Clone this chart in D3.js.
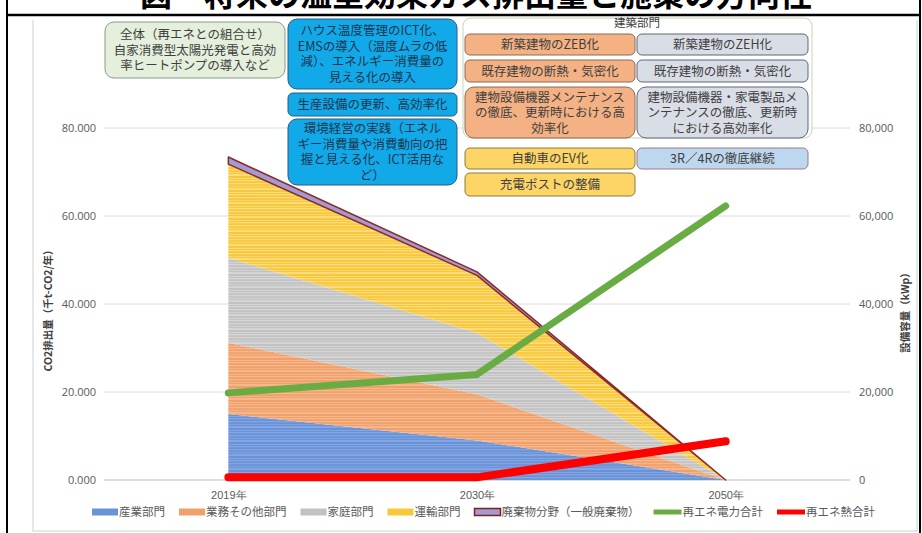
<!DOCTYPE html>
<html><head><meta charset="utf-8">
<script src="https://cdn.jsdelivr.net/npm/d3@7"></script>
<style>
html,body{margin:0;padding:0;background:#fff;}
svg{display:block;font-family:"Noto Sans CJK JP","Noto Sans",sans-serif;}
</style></head>
<body><svg id="c" width="922" height="533"></svg>
<script>
// ---- data ----
const years = ["2019年","2030年","2050年"];
const industry  = [15.0, 9.0, 0];
const business  = [16.2, 10.5, 0];
const household = [19.3, 13.9, 0];
const transport = [21.3, 13.1, 0];
const waste     = [1.6, 0.8, 0];
const reElec = [19800, 24000, 62300];
const reHeat = [600, 600, 8800];
const seriesNames = ["産業部門","業務その他部門","家庭部門","運輸部門","廃棄物分野（一般廃棄物）"];
const lineNames = ["再エネ電力合計","再エネ熱合計"];
const leftTicks = [0,20,40,60,80];
const rightTicks = [0,20000,40000,60000,80000];
const titleText = "図　将来の温室効果ガス排出量と施策の方向性";
const leftTitle = "CO2排出量（千t-CO2/年）";
const rightTitle = "設備容量（kWp）";

// annotation boxes (layout kept separately)
const boxes = [
 {t:["全体（再エネとの組合せ）","自家消費型太陽光発電と高効","率ヒートポンプの導入など"], x:105,y:22,w:180,h:56, f:"#e4efdc", s:"#8a9a8a", c:"#404040"},
 {t:["ハウス温度管理のICT化、","EMSの導入（温度ムラの低","減）、エネルギー消費量の","見える化の導入"], x:288,y:19,w:169,h:70, f:"#12a9e8", s:"#2a5a80", c:"#1e3550"},
 {t:["生産設備の更新、高効率化"], x:288,y:93,w:169,h:23, f:"#12a9e8", s:"#2a5a80", c:"#1e3550"},
 {t:["環境経営の実践（エネル","ギー消費量や消費動向の把","握と見える化、ICT活用な","ど）"], x:288,y:119,w:169,h:66, f:"#12a9e8", s:"#2a5a80", c:"#1e3550"},
 {t:["新築建物のZEB化"], x:465,y:34,w:170,h:21, f:"#f4b183", s:"#8c6a55", c:"#404040"},
 {t:["新築建物のZEH化"], x:637,y:34,w:171,h:21, f:"#d9dde6", s:"#5e6878", c:"#404040"},
 {t:["既存建物の断熱・気密化"], x:465,y:60,w:170,h:22, f:"#f4b183", s:"#8c6a55", c:"#404040"},
 {t:["既存建物の断熱・気密化"], x:637,y:60,w:171,h:22, f:"#d9dde6", s:"#5e6878", c:"#404040"},
 {t:["建物設備機器メンテナンス","の徹底、更新時における高","効率化"], x:465,y:87,w:170,h:51, f:"#f4b183", s:"#8c6a55", c:"#404040"},
 {t:["建物設備機器・家電製品メ","ンテナンスの徹底、更新時","における高効率化"], x:637,y:87,w:171,h:51, f:"#d9dde6", s:"#5e6878", c:"#404040"},
 {t:["自動車のEV化"], x:465,y:148,w:170,h:21, f:"#fcd566", s:"#8c7a40", c:"#404040"},
 {t:["3R／4Rの徹底継続"], x:637,y:148,w:171,h:21, f:"#bdd7ee", s:"#a07888", c:"#404040"},
 {t:["充電ポストの整備"], x:465,y:173,w:170,h:23, f:"#fcd566", s:"#8c7a40", c:"#404040"}
];

const svg = d3.select("#c");
const W = 922, H = 533;
const colors = ["#6a92d8","#f0a06a","#c2c2c2","#f8c73a","#a49ad0"];
const stripe = ["#8aaae4","#f6bd93","#dadada","#fde08a","#a49ad0"];

// patterns
const defs = svg.append("defs");
colors.forEach((c,i)=>{
  const p = defs.append("pattern").attr("id","p"+i).attr("patternUnits","userSpaceOnUse")
    .attr("width",8).attr("height",14);
  p.append("rect").attr("width",8).attr("height",14).attr("fill",c);
  [[1,1.2],[4,0.8],[6,2],[10,1],[12,1.3]].forEach(([yy,hh])=>{
    p.append("rect").attr("y",yy).attr("width",8).attr("height",hh).attr("fill",stripe[i]).attr("opacity",0.8);
  });
});

// frames
svg.append("rect").attr("x",33).attr("y",15).attr("width",884).attr("height",516)
  .attr("fill","#fff").attr("stroke","#d0d0d0").attr("stroke-width",1);

// title (clipped at top like reference)
svg.append("text").attr("x",476).attr("y",6).attr("text-anchor","middle")
  .attr("font-size",32).attr("font-weight","bold").attr("fill","#000").text(titleText);
svg.append("rect").attr("x",8).attr("y",14).attr("width",911).attr("height",6).attr("fill","#fff");

svg.append("line").attr("x1",7).attr("x2",7).attr("y1",0).attr("y2",H).attr("stroke","#000").attr("stroke-width",2);
svg.append("line").attr("x1",920).attr("x2",920).attr("y1",0).attr("y2",H).attr("stroke","#000").attr("stroke-width",2);
svg.append("line").attr("x1",7).attr("x2",920).attr("y1",15).attr("y2",15).attr("stroke","#000").attr("stroke-width",2.5);

// scales
const x = d3.scalePoint().domain(years).range([104,850]).padding(0.5);
const yL = d3.scaleLinear().domain([0,80]).range([480,128]);
const yR = d3.scaleLinear().domain([0,80000]).range([480,128]);

// grid
svg.append("g").selectAll("line").data(leftTicks).join("line")
  .attr("x1",104).attr("x2",850).attr("y1",d=>yL(d)).attr("y2",d=>yL(d))
  .attr("stroke",d=>d===0?"#bfbfbf":"#dcdcdc").attr("stroke-width",1);

// left axis labels
const gl = svg.append("g").attr("transform","translate(96,0)")
  .call(d3.axisLeft(yL).tickValues(leftTicks).tickFormat(d3.format(".3f")).tickSize(0).tickPadding(0));
gl.select(".domain").remove();
gl.selectAll("text").attr("font-size",11).attr("fill","#595959").attr("font-family","'Open Sans','Noto Sans',sans-serif");
// right axis labels
const gr = svg.append("g").attr("transform","translate(859,0)")
  .call(d3.axisRight(yR).tickValues(rightTicks).tickFormat(d3.format(",")).tickSize(0).tickPadding(0));
gr.select(".domain").remove();
gr.selectAll("text").attr("font-size",11).attr("fill","#595959").attr("font-family","'Open Sans','Noto Sans',sans-serif");

// x labels
const gx = svg.append("g").attr("transform","translate(0,491)")
  .call(d3.axisBottom(x).tickSize(0).tickPadding(0));
gx.select(".domain").remove();
gx.selectAll("text").attr("font-size",11).attr("fill","#595959").attr("dy","0.71em");

// axis titles
svg.append("text").attr("transform","translate(52,308) rotate(-90)").attr("text-anchor","middle")
  .attr("font-size",10.5).attr("font-weight","bold").attr("fill","#404040").text(leftTitle);
svg.append("text").attr("transform","translate(909,310) rotate(-90)").attr("text-anchor","middle")
  .attr("font-size",10.5).attr("font-weight","bold").attr("fill","#404040").text(rightTitle);

// stacked areas
const table = years.map((y,i)=>({year:y, s0:industry[i], s1:business[i], s2:household[i], s3:transport[i], s4:waste[i]}));
const stack = d3.stack().keys(["s0","s1","s2","s3","s4"])(table);
const area = d3.area().x(d=>x(d.data.year)).y0(d=>yL(d[0])).y1(d=>yL(d[1]));
svg.append("g").selectAll("path").data(stack).join("path")
  .attr("d",area).attr("fill",(d,i)=>"url(#p"+i+")")
  .attr("stroke",(d,i)=>i===4?"#8b2a2a":"none").attr("stroke-width",(d,i)=>i===4?1.5:0)
  .attr("stroke-linejoin","round");

// lines
const line = d3.line().x((d,i)=>x(years[i])).y(d=>yR(d));
svg.append("path").datum(reElec).attr("d",line).attr("fill","none")
  .attr("stroke","#6aac44").attr("stroke-width",7).attr("stroke-linecap","round").attr("stroke-linejoin","round");
svg.append("path").datum(reHeat).attr("d",line).attr("fill","none")
  .attr("stroke","#ff0000").attr("stroke-width",8).attr("stroke-linecap","round").attr("stroke-linejoin","round");

// 建築部門 group box
svg.append("rect").attr("x",463).attr("y",18).attr("width",349).attr("height",120).attr("rx",8)
  .attr("fill","#fff").attr("fill-opacity",0.85).attr("stroke","#c5d6b5").attr("stroke-width",1);
svg.append("text").attr("x",637).attr("y",27).attr("text-anchor","middle").attr("font-size",11.5)
  .attr("fill","#404040").text("建築部門");

// annotation boxes
const bg = svg.append("g").selectAll("g").data(boxes).join("g");
bg.append("rect").attr("x",d=>d.x).attr("y",d=>d.y).attr("width",d=>d.w).attr("height",d=>d.h)
  .attr("rx",d=>d.h>40?9:5).attr("fill",d=>d.f).attr("stroke",d=>d.s).attr("stroke-width",1);
bg.each(function(d){
  const g = d3.select(this);
  const lh = 15.5, n = d.t.length;
  const cy = d.y + d.h/2 - (n-1)*lh/2;
  d.t.forEach((s,k)=>{
    g.append("text").attr("x",d.x+d.w/2).attr("y",cy+k*lh).attr("dy","0.36em")
      .attr("text-anchor","middle").attr("font-size",12.5).attr("fill",d.c).text(s);
  });
});

// legend
const lg = svg.append("g").attr("transform","translate(0,512)");
let lx = 92;
const items = seriesNames.map((n,i)=>({n, type:"area", i})).concat(lineNames.map((n,i)=>({n,type:"line",i})));
items.forEach(it=>{
  if(it.type==="area"){
    lg.append("rect").attr("x",lx).attr("y",-3.5).attr("width",26).attr("height",7)
      .attr("fill",colors[it.i]).attr("stroke",it.i===4?"#7a2020":"none").attr("stroke-width",1.5);
  } else {
    lg.append("line").attr("x1",lx).attr("x2",lx+28).attr("y1",0).attr("y2",0)
      .attr("stroke",it.i===0?"#6aac44":"#ff0000").attr("stroke-width",5);
  }
  const t = lg.append("text").attr("x",lx+(it.type==="area"?27:29)).attr("y",0).attr("dy","0.36em")
    .attr("font-size",11.5).attr("fill","#595959").text(it.n);
  lx += (it.type==="area"?27:29) + t.node().getComputedTextLength() + 14;
});
</script></body></html>
